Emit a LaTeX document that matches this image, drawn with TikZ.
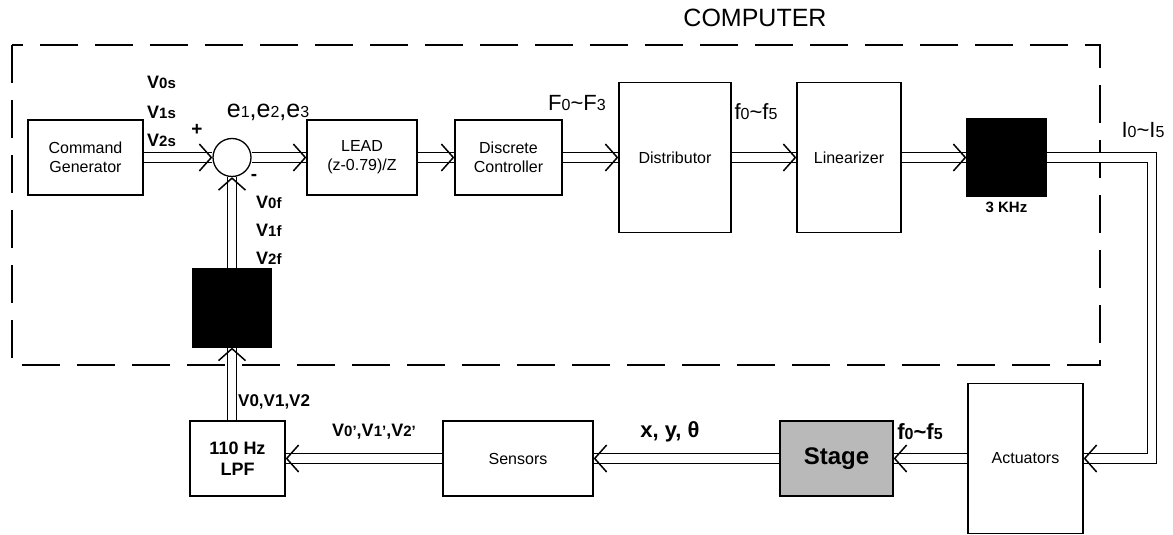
\documentclass[tikz,border=0pt]{standalone}
\usepackage{fontspec}
\setmainfont{Liberation Sans}
\usetikzlibrary{arrows.meta,positioning,calc,decorations.markings}
\newcommand{\sm}[1]{{\fontsize{15}{15}\selectfont #1}}
\newcommand{\lo}[1]{{\fontsize{16}{16}\selectfont #1}}
\newcommand{\til}{\textasciitilde}

\begin{document}
\begin{tikzpicture}[x=1pt,y=-1pt,
  box/.style    ={draw,line width=1.3pt,fill=white,font=\fontsize{16}{19}\selectfont,
                  align=center,inner sep=0pt},
  dark/.style   ={draw,line width=1.3pt,fill=black,inner sep=0pt},
  bus/.style    ={double,double distance=8.5pt,line width=1.2pt,
                  postaction={decorate,decoration={markings,mark=at position 1 with
                    {\arrow[line width=1.5pt]{Straight Barb[length=12pt,width=27pt]}}}}},
  sig/.style    ={font=\bfseries\fontsize{18}{18}\selectfont,inner sep=1pt},
  biglbl/.style ={font=\fontsize{22}{22}\selectfont,inner sep=1pt},
  pcframe/.style={dash pattern=on 38pt off 17pt,line width=1.4pt},
]
\useasboundingbox (0,0) rectangle (1173,535);
\draw[pcframe] (12,45) rectangle (1100,365);
\node[biglbl,font=\fontsize{25}{25}\selectfont] (pc) at (755,18) {COMPUTER};

% forward path (inside the computer)
\node[box,minimum width=115pt,minimum height=75pt] (cmd) at (85.5,157.5) {Command\\Generator};
\node[circle,draw,line width=1.3pt,minimum size=38pt,inner sep=0pt] (sum) at (232,157.5) {};
\node[box,minimum width=110pt,minimum height=75pt] (lead) at (362,157.5) {LEAD\\(z-0.79)/Z};
\node[box,minimum width=107pt,minimum height=75pt] (ctrl) at (508.5,157.5) {Discrete\\Controller};
\node[box,minimum width=112pt,minimum height=150pt] (dist) at (675,157.5) {Distributor};
\node[box,minimum width=104pt,minimum height=150pt] (lin) at (849,157.5) {Linearizer};
\node[dark,minimum width=79pt,minimum height=78pt] (dac) at (1006.5,157.5) {};
\node[dark,minimum width=78pt,minimum height=78pt] (filt) at (232,308) {};

% plant and feedback
\node[box,minimum width=115pt,minimum height=150pt] (act) at (1025.5,458.5) {Actuators};
\node[box,fill=gray!55,minimum width=113pt,minimum height=75pt,
      font=\bfseries\fontsize{24}{24}\selectfont] (stage) at (836.5,458.5) {Stage};
\node[box,minimum width=150pt,minimum height=75pt] (sens) at (518,458.5) {Sensors};
\node[box,minimum width=95pt,minimum height=75pt,
      font=\bfseries\fontsize{18}{21}\selectfont] (lpf) at (237.5,458.5) {110 Hz\\LPF};

\coordinate (turn) at (1152,157.5);
\draw[bus] (cmd) -- (sum);
\draw[bus] (sum) -- (lead);
\draw[bus] (lead) -- (ctrl);
\draw[bus] (ctrl) -- (dist);
\draw[bus] (dist) -- (lin);
\draw[bus] (lin) -- (dac);
\draw[bus] (dac) -- (turn) |- (act);
\draw[bus] (act) -- (stage);
\draw[bus] (stage) -- (sens);
\draw[bus] (sens) -- (lpf);
\draw[bus] (lpf.north -| filt) -- (filt);
\draw[bus] (filt) -- (sum);

% signal labels
\node[sig,anchor=west] (v0s) at (146,82)  {V\sm{0s}};
\node[sig,anchor=west] (v1s) at (146,112) {V\sm{1s}};
\node[sig,anchor=west] (v2s) at (146,140) {V\sm{2s}};
\node[sig,font=\bfseries\fontsize{19}{19}\selectfont] (plus) at (197,130) {+};
\node[sig,font=\bfseries\fontsize{19}{19}\selectfont] (minus) at (254,177) {-};
\node[biglbl,font=\fontsize{25}{25}\selectfont] (err) at (268,112) {e\lo{1},e\lo{2},e\lo{3}};
\node[biglbl] (force) at (577,103) {F\lo{0}\til F\lo{3}};
\node[biglbl] (fout) at (756,112) {f\lo{0}\til f\lo{5}};
\node[biglbl] (cur) at (1143,130) {I\lo{0}\til I\lo{5}};
\node[sig,font=\bfseries\fontsize{15}{15}\selectfont,below=4pt of dac] (khz) {3 KHz};
\node[sig,anchor=west] (v0f) at (255,202) {V\sm{0f}};
\node[sig,anchor=west] (v1f) at (255,230) {V\sm{1f}};
\node[sig,anchor=west] (v2f) at (255,258) {V\sm{2f}};
\node[sig,anchor=west,font=\bfseries\fontsize{17}{17}\selectfont] (vraw) at (237,402) {V0,V1,V2};
\node[sig] (vmeas) at (374,432) {V\sm{0'},V\sm{1'},V\sm{2'}};
\node[sig,font=\bfseries\fontsize{22}{22}\selectfont] (pose) at (670,432) {x, y, θ};
\node[biglbl,font=\bfseries\fontsize{22}{22}\selectfont] (fin) at (920,432) {f\lo{0}\til f\lo{5}};
\end{tikzpicture}
\end{document}
